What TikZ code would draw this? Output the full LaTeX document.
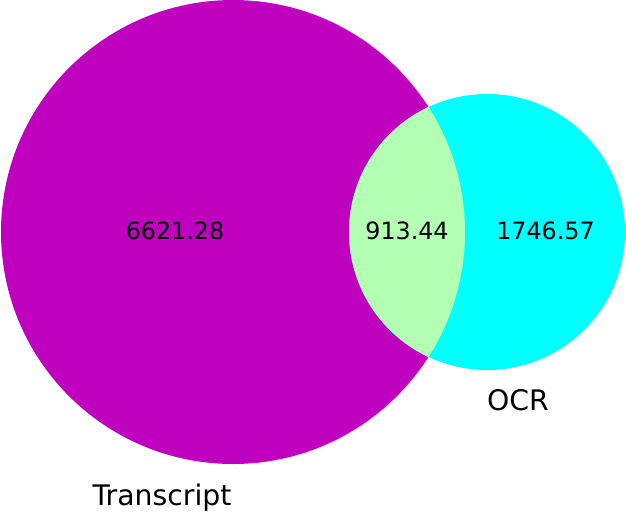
\documentclass[tikz,border=0pt]{standalone}
\usepackage{fontspec}
\setmainfont{DejaVu Sans}
\definecolor{transc}{RGB}{191,0,191}
\definecolor{ocrc}{RGB}{0,255,255}
\definecolor{both}{RGB}{179,255,179}
\begin{document}
\begin{tikzpicture}[x=1pt,y=-1pt,
  num/.style={anchor=base,inner sep=0pt,font=\fontsize{23.8}{28}\selectfont},
  lab/.style={anchor=base,inner sep=0pt,font=\fontsize{28.3}{34}\selectfont}]
\useasboundingbox (0,0) rectangle (626,512);
\fill[transc] (233,232) circle (232pt);
\fill[ocrc] (487,232) circle (138pt);
\begin{scope}
  \clip (233,232) circle (232pt);
  \fill[both] (487,232) circle (138pt);
\end{scope}
\node[num] (a) at (175,239.6) {6621.28};
\node[num] (b) at (407,239.6) {913.44};
\node[num] (c) at (545.5,239.6) {1746.57};
\node[lab] (o) at (518,410.9) {OCR};
\node[lab] (t) at (162,505) {Transcript};
\end{tikzpicture}
\end{document}
